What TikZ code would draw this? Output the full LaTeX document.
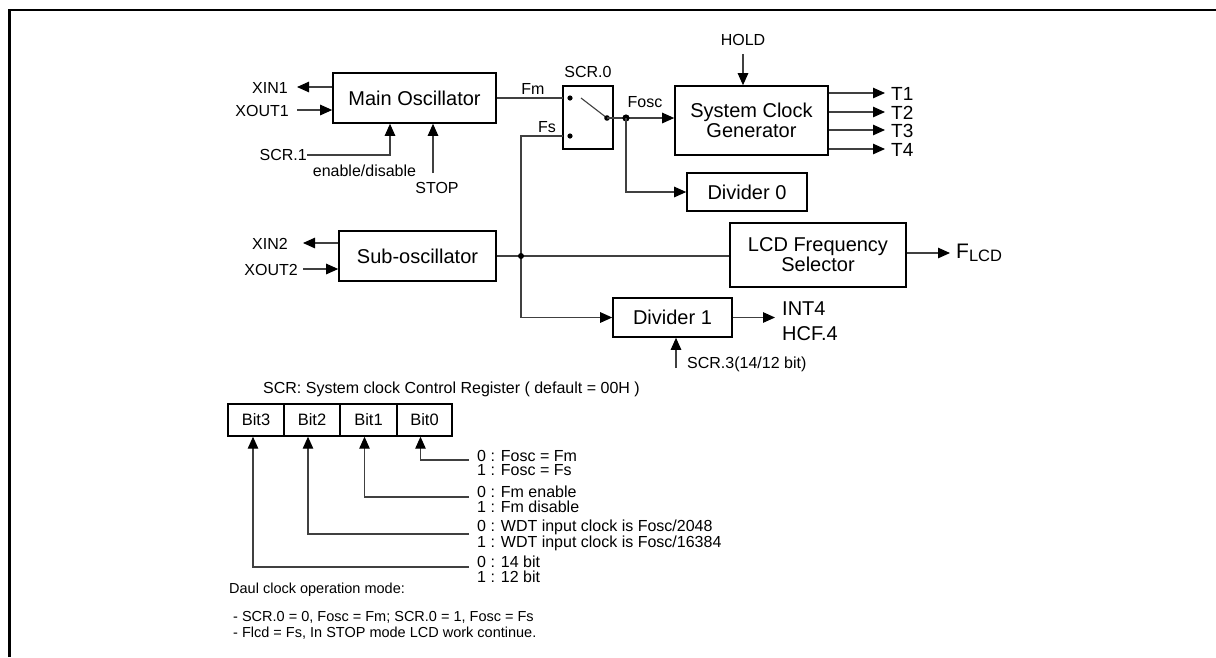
\documentclass[tikz,border=0pt]{standalone}
\usepackage{fontspec}
\setmainfont{Liberation Sans}
\usetikzlibrary{arrows.meta,calc}
\tikzset{
  blk/.style={draw=black, line width=1.6pt, inner sep=0, align=center, font=\fontsize{20}{20}\selectfont},
  cell/.style={draw=black, line width=1.4pt, inner sep=0, minimum height=32pt, font=\fontsize{16.5}{17}\selectfont},
  lbl/.style={inner sep=0, font=\fontsize{16}{17}\selectfont},
  big/.style={inner sep=0, font=\fontsize{20}{20}\selectfont},
  note/.style={inner sep=0, font=\fontsize{14.5}{15}\selectfont},
  wire/.style={draw=black!75, line width=1.1pt},
  arr/.style={wire, -{Triangle[length=12pt,width=10.5pt,color=black]}},
  dot/.style={fill=black}
}
\begin{document}
\begin{tikzpicture}[x=1pt,y=-1pt]
\useasboundingbox (0,0) rectangle (1216,657);
% frame
\draw[line width=2.5pt] (9.5,657) -- (9.5,10) -- (1216,10);

% blocks
\node[blk, minimum width=163pt, minimum height=50pt] (mo) at (414.5,98) {Main Oscillator};
\node[blk, line width=1.4pt, minimum width=50pt, minimum height=63pt] (sw) at (588,117.5) {};
\node[blk, minimum width=153pt, minimum height=69pt] (scg) at (751.5,120.5) {System Clock\\Generator};
\node[blk, minimum width=120pt, minimum height=38pt] (d0) at (747,192) {Divider 0};
\node[blk, minimum width=157pt, minimum height=50pt] (sub) at (417.5,256) {Sub-oscillator};
\node[blk, minimum width=176pt, minimum height=64pt] (lcd) at (818,255) {LCD Frequency\\Selector};
\node[blk, minimum width=119pt, minimum height=39pt] (d1) at (672.5,317.5) {Divider 1};

% main oscillator I/O
\coordinate (xin1) at (297,87);
\coordinate (xout1) at (297,110);
\node[lbl, anchor=east] (lxin1) at (288,88) {XIN1};
\node[lbl, anchor=east] (lxout1) at (289,111) {XOUT1};
\draw[arr] (mo.west |- xin1) -- (xin1);
\draw[arr] (xout1) -- (mo.west |- xout1);
\node[lbl, anchor=east] (lscr1) at (307,155) {SCR.1};
\node[lbl] (len) at (364.5,171) {enable/disable};
\draw[arr] (lscr1.east) -| ([xshift=-24.5pt]mo.south);
\coordinate (stop) at (433,173);
\node[lbl] (lstop) at (437,188) {STOP};
\draw[arr] (stop) -- (stop |- mo.south);

% switch
\node[lbl] (lscr0) at (588,72) {SCR.0};
\coordinate (fmin) at (563,98);
\coordinate (fsin) at (563,136);
\coordinate (swout) at (607,118);
\draw[wire] (mo.east) -- (fmin);
\node[lbl] (lfm) at (533,89) {Fm};
\node[lbl] (lfs) at (547,127) {Fs};
\fill[dot] (570,98) circle (2.6pt);
\fill[dot] (570,136) circle (2.6pt);
\draw[wire] (581,98) -- (swout);
\fill[dot] (swout) circle (2.8pt);
\coordinate (jfosc) at (626,118);
\draw[arr] (swout) -- (scg.west |- swout);
\fill[dot] (jfosc) circle (3.6pt);
\node[lbl] (lfosc) at (645,102) {Fosc};
\draw[arr] (jfosc) |- (d0.west);

% HOLD
\node[lbl] (lhold) at (743,40) {HOLD};
\draw[arr] ([yshift=-8pt]lhold.south) -- (lhold.south |- scg.north);

% T outputs
\foreach \i/\y in {1/93,2/112,3/130,4/149}{
  \coordinate (t\i) at (885,\y);
  \draw[arr] (scg.east |- t\i) -- (t\i);
  \node[inner sep=0, anchor=west, font=\fontsize{19}{19}\selectfont] (lt\i) at (891,\y+1) {T\i};
}

% sub oscillator I/O
\coordinate (xin2) at (303,243);
\coordinate (xout2) at (303,269);
\node[lbl, anchor=east] (lxin2) at (288,244) {XIN2};
\node[lbl, anchor=east] (lxout2) at (298,270) {XOUT2};
\draw[arr] (sub.west |- xin2) -- (xin2);
\draw[arr] (xout2) -- (sub.west |- xout2);

% Fs path and sub-osc junction
\coordinate (jn) at (521,256);
\draw[wire] (sub.east) -- (lcd.west |- sub.east);
\draw[arr] (fsin) -| (jn) |- (d1.west);
\fill[dot] (jn) circle (3pt);

% LCD output
\coordinate (flcd) at (950,253);
\draw[arr] (lcd.east |- flcd) -- (flcd);
\node[inner sep=0, anchor=west] (lflcd) at (956,253) {\fontsize{21}{21}\selectfont F\raisebox{-3.5pt}{\fontsize{16.5}{17}\selectfont LCD}};

% Divider 1 output
\coordinate (d1out) at (775,317.5);
\draw[arr] (d1.east) -- (d1out);
\node[big, anchor=west] (lint4) at (782,309) {INT4};
\node[big, anchor=west] (lhcf) at (782,334) {HCF.4};
\coordinate (scr3) at (676,368);
\draw[arr] (scr3) -- (scr3 |- d1.south);
\node[lbl, anchor=west] (lscr3) at (687,364) {SCR.3(14/12 bit)};

% register
\node[lbl, anchor=west] (lreg) at (263,389) {SCR: System clock Control Register ( default = 00H )};
\node[cell, minimum width=56pt] (b3) at (256,420) {Bit3};
\node[cell, minimum width=56pt] (b2) at (312,420) {Bit2};
\node[cell, minimum width=57pt] (b1) at (368.5,420) {Bit1};
\node[cell, minimum width=55pt] (b0) at (424.5,420) {Bit0};

\coordinate (e0) at (469,460);
\coordinate (e1) at (469,497);
\coordinate (e2) at (469,534);
\coordinate (e3) at (469,567);
\draw[arr] (e0) -| ([xshift=-4pt]b0.south);
\draw[arr] (e1) -| ([xshift=-4pt]b1.south);
\draw[arr] (e2) -| ([xshift=-4pt]b2.south);
\draw[arr] (e3) -| ([xshift=-3pt]b3.south);

\node[lbl, anchor=west] (v00) at (477,455.5) {0 : Fosc = Fm};
\node[lbl, anchor=west] (v01) at (477,470) {1 : Fosc = Fs};
\node[lbl, anchor=west] (v10) at (477,492) {0 : Fm enable};
\node[lbl, anchor=west] (v11) at (477,506.5) {1 : Fm disable};
\node[lbl, anchor=west] (v20) at (477,527) {0 : WDT input clock is Fosc/2048};
\node[lbl, anchor=west] (v21) at (477,543) {1 : WDT input clock is Fosc/16384};
\node[lbl, anchor=west] (v30) at (477,562) {0 : 14 bit};
\node[lbl, anchor=west] (v31) at (477,576.5) {1 : 12 bit};

% notes
\node[note, anchor=west] (n0) at (229,590) {Daul clock operation mode:};
\node[note, anchor=west] (n1) at (233,617) {- SCR.0 = 0, Fosc = Fm; SCR.0 = 1, Fosc = Fs};
\node[note, anchor=west] (n2) at (233,633) {- Flcd = Fs, In STOP mode LCD work continue.};
\end{tikzpicture}
\end{document}
